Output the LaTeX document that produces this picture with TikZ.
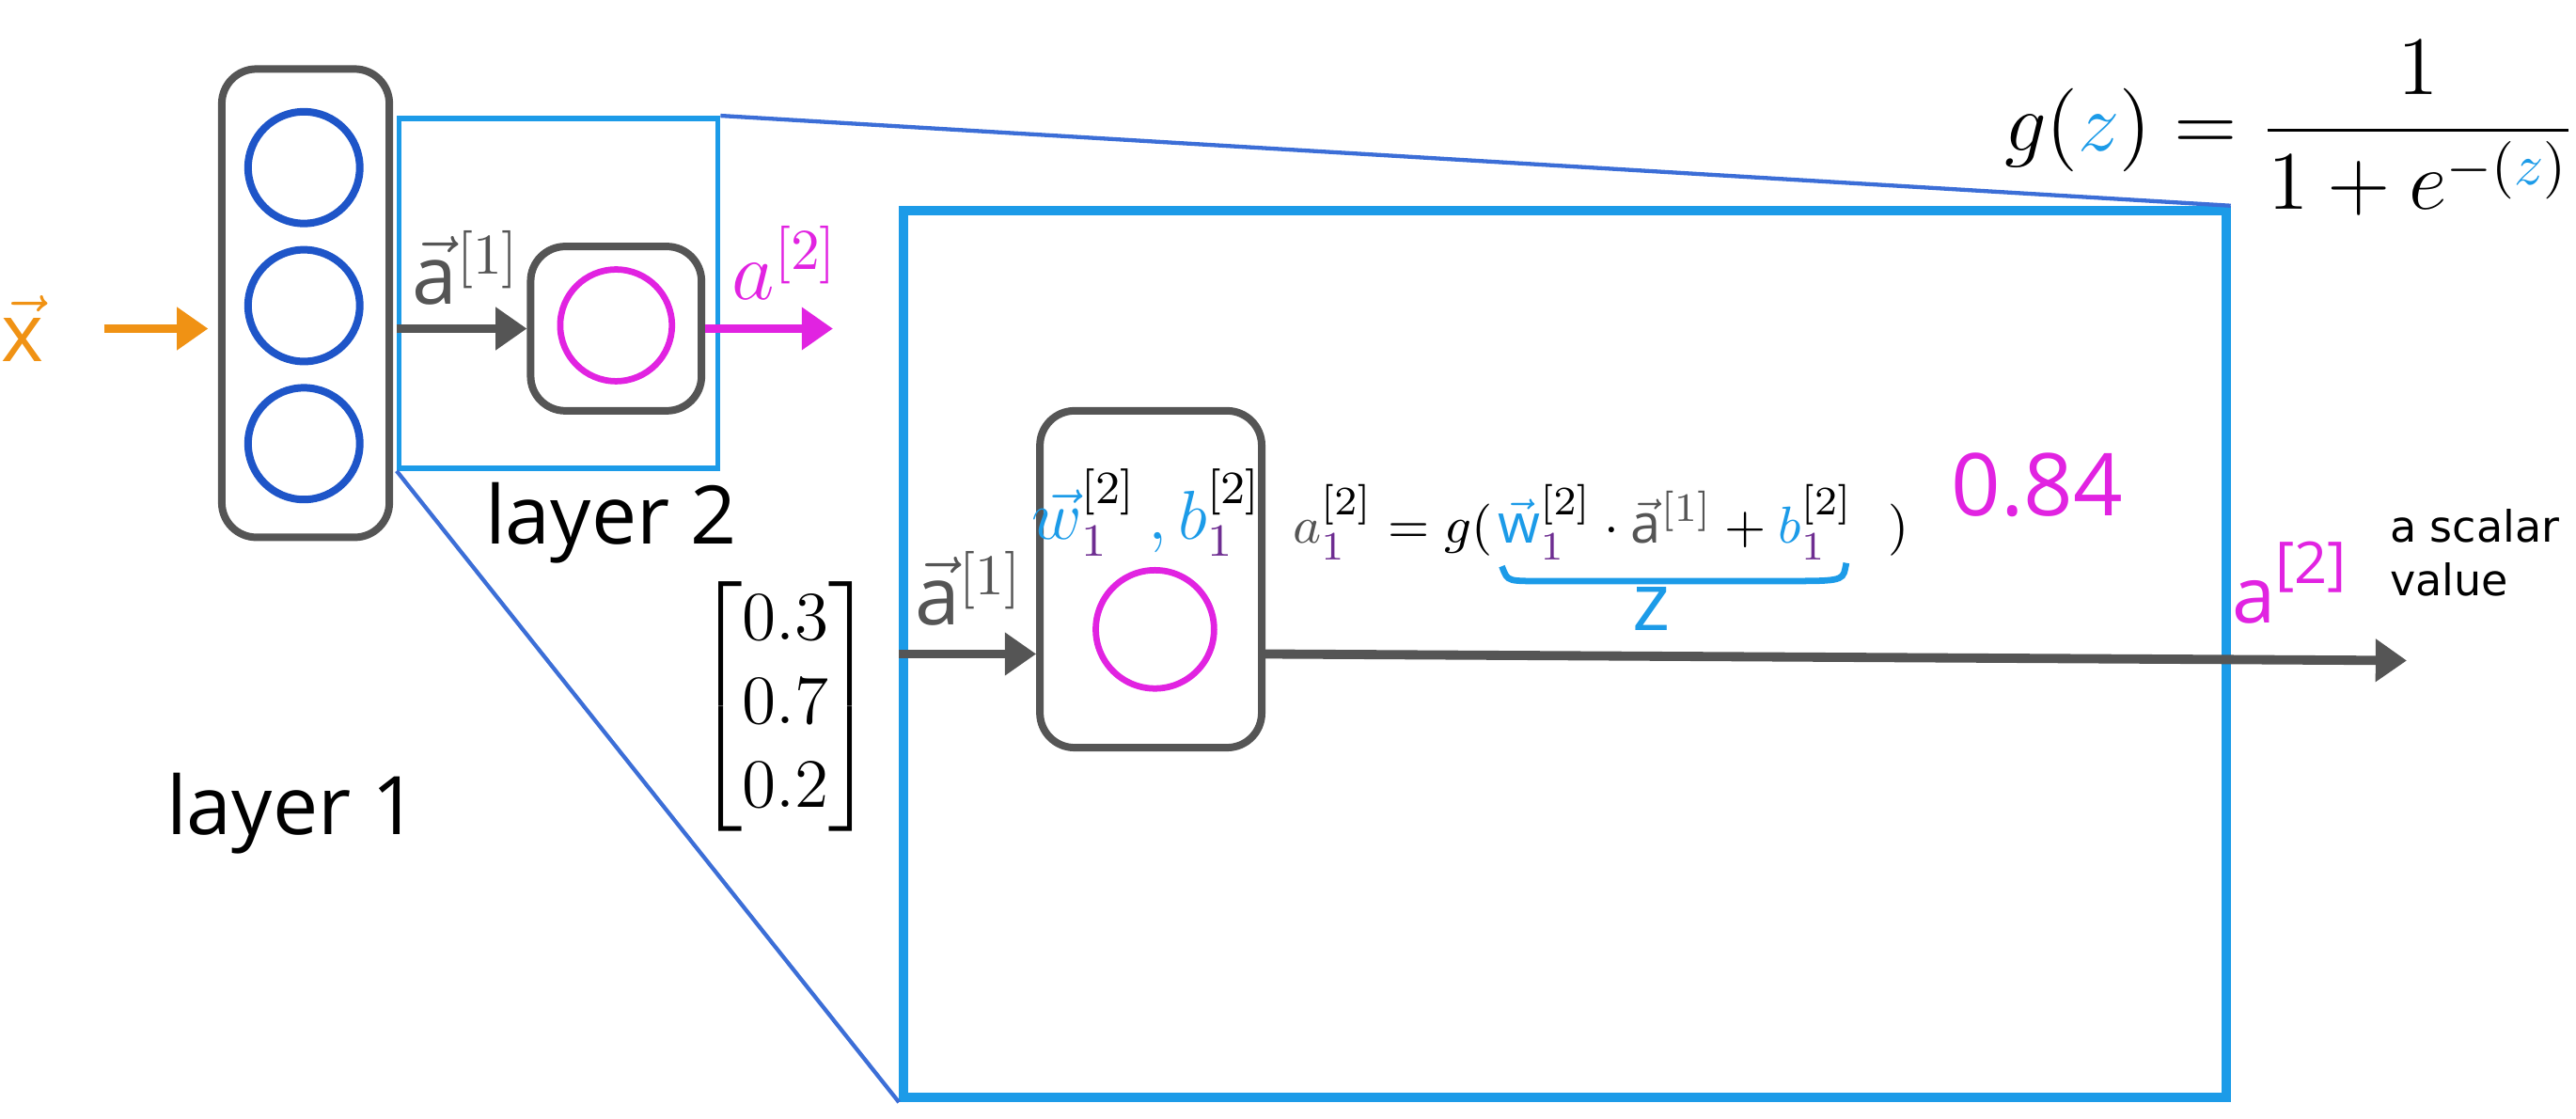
\documentclass[tikz,border=0pt]{standalone}
\usepackage{amsmath}
\usepackage{fontspec}
\setsansfont{Open Sans}
\newfontfamily\dejavu{DejaVu Sans}
\usepackage{tikz}
\usetikzlibrary{arrows.meta,positioning}
\usepackage{xcolor}
\definecolor{meularanja}{RGB}{240,146,20}
\definecolor{meuazulescuro}{RGB}{30,85,200}
\definecolor{meuazul}{RGB}{28,155,232}
\definecolor{meulinha}{RGB}{60,110,215}
\definecolor{meucinza}{RGB}{85,85,85}
\definecolor{meumagenta}{RGB}{225,35,225}
\definecolor{meuroxo}{RGB}{110,45,145}

\begin{document}
\begin{tikzpicture}[x=0.1mm, y=-0.1mm,
        caixa/.style={draw=meucinza, line width=1.3pt, rounded corners=6pt, inner sep=0pt},
        neur/.style={draw, circle, line width=1.1pt, minimum size=6.8mm, inner sep=0pt},
        seta/.style={-{Triangle[length=1.9mm, width=2.5mm]}, line width=1.6pt},
        lupa/.style={meulinha, line width=0.7pt},
        rotulo/.style={font=\sffamily\fontsize{14}{16}\selectfont},
        eqf/.style={font=\fontsize{9.4}{12}\selectfont, inner sep=0pt}
    ]
        \useasboundingbox (0,0) rectangle (1568,681);

        \node[draw=meuazul, line width=1.6pt, minimum width=80.5mm, minimum height=54mm, inner sep=0pt] (cam3) at (952.5,398) {};
        \node[draw=meuazul, line width=0.9pt, minimum width=19.4mm, minimum height=21.3mm, inner sep=0pt] (cam2) at (340,178.5) {};
        \draw[lupa] (cam2.north east) -- (cam3.north east);
        \draw[lupa] (cam2.south west) -- (cam3.south west);

        % camada 1
        \node[caixa, minimum width=10.2mm, minimum height=28.5mm] (cam1) at (186,184.5) {};
        \node[neur, draw=meuazulescuro, line width=1.3pt] (u1) at (185,102) {};
        \node[neur, draw=meuazulescuro, line width=1.3pt] (u2) at (185,186) {};
        \node[neur, draw=meuazulescuro, line width=1.3pt] (u3) at (185,270) {};
        \node[text=meularanja, font=\fontsize{14}{16}\selectfont] (x) at (14,200) {$\vec{\mathsf{x}}$};
        \draw[seta, meularanja, shorten <=2.4mm, shorten >=0.6mm] (x) -- (x -| cam1.west);
        \node[rotulo] (c1) at (178,495) {layer 1};

        % camada 2
        \node[caixa, minimum width=10.4mm, minimum height=10mm] (n2) at (375,200) {};
        \node[neur, draw=meumagenta] (u4) at (375,198) {};
        \draw[seta, meucinza] (cam2.west |- n2) -- (n2);
        \node[text=meucinza, font=\fontsize{14}{16}\selectfont] (la1) at (284,163) {$\vec{\mathsf{a}}^{[1]}$};
        \coordinate (s2) at (507,197);
        \draw[seta, meumagenta] (n2) -- (n2 -| s2);
        \node[text=meumagenta, font=\fontsize{14}{16}\selectfont] (la2) at (478,160) {$a^{[2]}$};
        \node[rotulo] (c2) at (372,318) {layer 2};

        % detalhe
        \node[font=\fontsize{12}{14.5}\selectfont] (vet) at (478,430) {$\begin{bmatrix}0.3\\0.7\\0.2\end{bmatrix}$};
        \coordinate (linha) at (0,398);
        \node[caixa, minimum width=13.5mm, minimum height=20.5mm] (n3) at (700.5,352.5) {};
        \node[neur, draw=meumagenta, minimum size=7.2mm] (u5) at (703,383) {};
        \draw[seta, meucinza] (cam3.west |- linha) -- (n3.west |- linha);
        \node[text=meucinza, font=\fontsize{14}{16}\selectfont] (la3) at (590,358) {$\vec{\mathsf{a}}^{[1]}$};
        \node[font=\fontsize{11.5}{14}\selectfont] (wb) at (698,312) {$\textcolor{meuazul}{\vec{w}}^{[2]}_{\textcolor{meuroxo}{1}}\,\textcolor{meuazul}{,b}^{[2]}_{\textcolor{meuroxo}{1}}$};

        \node[eqf] (eqm) at (1020,318) {$\textcolor{meuazul}{\vec{\mathsf{w}}}^{[2]}_{\textcolor{meuroxo}{1}} \cdot \textcolor{meucinza}{\vec{\mathsf{a}}^{[1]}} + \textcolor{meuazul}{b}^{[2]}_{\textcolor{meuroxo}{1}}$};
        \node[eqf, anchor=base east] (eql) at ([xshift=-0.2mm]eqm.base west) {$\textcolor{meucinza}{a}^{[2]}_{\textcolor{meuroxo}{1}}\;{=}\;g($};
        \node[eqf, anchor=base west] (eqr) at ([xshift=2mm]eqm.base east) {$)$};
        \draw[meuazul, line width=1.1pt] ([xshift=0.3mm,yshift=-0.3mm]eqm.south west) .. controls +(0.4mm,-1mm) and +(-3mm,0mm) .. ([xshift=3.5mm,yshift=-1.2mm]eqm.south west) -- ([xshift=-3.5mm,yshift=-1.2mm]eqm.south east) .. controls +(3mm,0mm) and +(-0.2mm,-1mm) .. ([xshift=-0.5mm,yshift=-0.1mm]eqm.south east);
        \node[text=meuazul, font=\sffamily\fontsize{14}{16}\selectfont, below=1.5mm of eqm, xshift=-1.5mm, inner sep=0pt] (z) {z};

        \node[text=meumagenta, font=\sffamily\fontsize{15}{18}\selectfont] (val) at (1240,295) {0.84};
        \coordinate (fim) at (1465,402);
        \draw[seta, meucinza] (n3.east |- linha) -- (fim);
        \node[text=meumagenta, font=\sffamily\fontsize{13.5}{16}\selectfont, anchor=base west, inner sep=0pt] (a2) at (1358,379) {a\raisebox{2.4mm}{\fontsize{10}{12}\selectfont[2]}};
        \node[font=\dejavu\fontsize{7.5}{9.4}\selectfont, align=left, anchor=north west, inner sep=0pt] (esc) at (1454,309) {a scalar\\value};

        \node[font=\fontsize{14}{17}\selectfont] (sig) at (1394,78) {$g(\textcolor{meuazul}{z}) = \dfrac{1}{1+e^{-(\textcolor{meuazul}{z})}}$};
    \end{tikzpicture}
\end{document}
